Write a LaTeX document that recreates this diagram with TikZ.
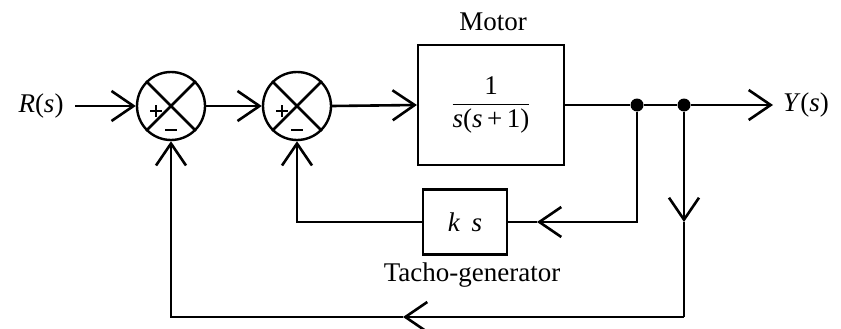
\documentclass[tikz,border=0pt]{standalone}
\usepackage{amsmath}
\usepackage{fontspec}
\setmainfont{Liberation Serif}
\usetikzlibrary{arrows.meta}
\begin{document}
\begin{tikzpicture}[x=1pt,y=-1pt,
  wire/.style={line width=2.6pt},
  arr/.style={wire,-{Straight Barb[length=22pt,width=30pt,line width=2.6pt]}},
  blk/.style={draw,line width=2.2pt,inner sep=0pt},
  sumnode/.style={circle,draw,line width=2.4pt,minimum size=68pt,inner sep=0pt},
  dot/.style={circle,fill,inner sep=0pt,minimum size=13pt},
  lbl/.style={font=\fontsize{27}{32}\selectfont},
  sgnline/.style={line width=1.8pt}]
\useasboundingbox (0,0) rectangle (841,329);

% nodes
\node[lbl] (R) at (41,106) {\textit{R}(\textit{s})};
\coordinate (in) at (75,106);
\node[sumnode] (s1) at (171,106) {};
\node[sumnode] (s2) at (297,106) {};
\node[blk,minimum width=146pt,minimum height=120pt,lbl] (motor) at (491,105)
  {$\dfrac{\mbox{1}}{\mbox{\textit{s}(\textit{s}\,+\,1)}}$};
\node[lbl] (mlabel) at (493,22) {Motor};
\node[dot] (d1) at (637,105) {};
\node[dot] (d2) at (684,105) {};
\coordinate (out) at (773,105);
\node[lbl] (Y) at (806,105) {\textit{Y}(\textit{s})};
\node[blk,minimum width=84pt,minimum height=65pt,lbl] (tacho) at (465,222) {\textit{k}\, \textit{s}};
\node[lbl] (tlabel) at (472,275) {Tacho-generator};

% crosses and signs
\foreach \s in {s1,s2}{
  \draw[wire] (\s.north west) -- (\s.south east);
  \draw[wire] (\s.south west) -- (\s.north east);
  \draw[sgnline] ([xshift=-21pt,yshift=-5pt]\s.center) -- ([xshift=-9pt,yshift=-5pt]\s.center);
  \draw[sgnline] ([xshift=-15pt,yshift=1pt]\s.center) -- ([xshift=-15pt,yshift=-11pt]\s.center);
  \draw[sgnline] ([xshift=-6pt,yshift=-24pt]\s.center) -- ([xshift=6pt,yshift=-24pt]\s.center);
}

% forward path
\draw[arr] (in) -- (s1.west);
\draw[arr] (s1.east) -- (s2.west);
\draw[arr] (s2.east) -- (motor.west);
\draw[wire] (motor.east) -- (d1);
\draw[wire] (d1) -- (d2);
\draw[arr] (d2) -- (out);

% tacho feedback
\coordinate (ta) at (537,222);
\draw[arr] (d1) |- (ta);
\draw[wire] (ta) -- (tacho.east);
\draw[arr] (tacho.west) -| (s2.south);

% outer feedback
\coordinate (da) at (684,222);
\coordinate (br) at (684,317);
\coordinate (ba) at (403,317);
\draw[arr] (d2) -- (da);
\draw[wire] (da) -- (br);
\draw[arr] (br) -- (ba);
\draw[arr] (ba) -| (s1.south);
\end{tikzpicture}
\end{document}
